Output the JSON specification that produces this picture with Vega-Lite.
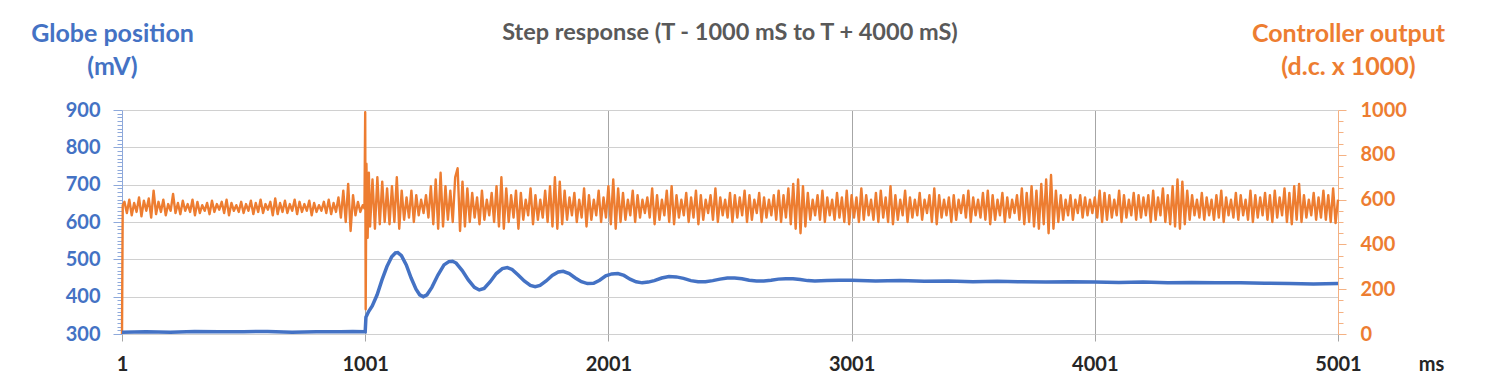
{
"$schema": "https://vega.github.io/schema/vega-lite/v6.json",
"width": 1216,
"height": 224,
"autosize": {"type": "none"},
"padding": {"left": 122, "top": 110, "right": 152, "bottom": 53},
"background": "white",
"config": {"view": {"stroke": null}},
"title": {"text": "Step response (T - 1000 mS to T + 4000 mS)", "font": "Lato", "fontSize": 23.5, "fontWeight": "bold", "color": "#595959", "anchor": "middle", "baseline": "alphabetic", "offset": 10, "dy": 52},
"datasets": {
"orange": [
{"t":1,"c":0},{"t":4,"c":575},
{"t":11,"c":590},{"t":21,"c":540},{"t":31,"c":600},{"t":41,"c":530},{"t":51,"c":585},{"t":61,"c":545},{"t":71,"c":610},{"t":81,"c":525},{"t":91,"c":595},{"t":101,"c":550},
{"t":111,"c":605},{"t":121,"c":520},{"t":131,"c":640},{"t":141,"c":535},{"t":151,"c":590},{"t":161,"c":545},{"t":171,"c":600},{"t":181,"c":530},{"t":191,"c":580},{"t":201,"c":550},
{"t":211,"c":625},{"t":221,"c":540},{"t":231,"c":585},{"t":241,"c":535},{"t":251,"c":595},{"t":261,"c":550},{"t":271,"c":580},{"t":281,"c":545},{"t":291,"c":600},{"t":301,"c":530},
{"t":311,"c":590},{"t":321,"c":540},{"t":331,"c":575},{"t":341,"c":550},{"t":351,"c":585},{"t":361,"c":535},{"t":371,"c":595},{"t":381,"c":545},{"t":391,"c":580},{"t":401,"c":555},
{"t":411,"c":590},{"t":421,"c":540},{"t":431,"c":600},{"t":441,"c":530},{"t":451,"c":585},{"t":461,"c":550},{"t":471,"c":575},{"t":481,"c":545},{"t":491,"c":590},{"t":501,"c":540},
{"t":511,"c":580},{"t":521,"c":550},{"t":531,"c":595},{"t":541,"c":535},{"t":551,"c":585},{"t":561,"c":545},{"t":571,"c":600},{"t":581,"c":540},{"t":591,"c":580},{"t":601,"c":555},
{"t":611,"c":590},{"t":621,"c":530},{"t":631,"c":605},{"t":641,"c":535},{"t":651,"c":585},{"t":661,"c":545},{"t":671,"c":595},{"t":681,"c":540},{"t":691,"c":580},{"t":701,"c":550},
{"t":711,"c":600},{"t":721,"c":535},{"t":731,"c":590},{"t":741,"c":545},{"t":751,"c":580},{"t":761,"c":550},{"t":771,"c":595},{"t":781,"c":530},{"t":791,"c":585},{"t":801,"c":545},
{"t":811,"c":575},{"t":821,"c":550},{"t":831,"c":590},{"t":841,"c":540},{"t":851,"c":600},{"t":861,"c":535},{"t":871,"c":585},{"t":881,"c":545},{"t":891,"c":610},{"t":901,"c":520},
{"t":911,"c":640},{"t":921,"c":500},{"t":931,"c":670},{"t":941,"c":460},{"t":951,"c":620},{"t":961,"c":530},{"t":971,"c":590},{"t":981,"c":545},{"t":991,"c":575},{"t":998,"c":560},
{"t":1001,"c":990},{"t":1003,"c":110},{"t":1006,"c":760},{"t":1011,"c":430},{"t":1016,"c":720},{"t":1021,"c":480},{"t":1031,"c":690},{"t":1041,"c":470},{"t":1051,"c":700},{"t":1061,"c":490},{"t":1071,"c":680},{"t":1081,"c":500},{"t":1091,"c":650},{"t":1101,"c":490},
{"t":1111,"c":660},{"t":1121,"c":500},{"t":1131,"c":700},{"t":1141,"c":470},{"t":1151,"c":640},{"t":1161,"c":510},{"t":1171,"c":610},{"t":1181,"c":520},{"t":1191,"c":640},{"t":1201,"c":500},
{"t":1211,"c":620},{"t":1221,"c":530},{"t":1231,"c":600},{"t":1241,"c":540},{"t":1251,"c":620},{"t":1261,"c":520},{"t":1271,"c":660},{"t":1281,"c":490},{"t":1291,"c":690},{"t":1301,"c":470},
{"t":1311,"c":720},{"t":1321,"c":480},{"t":1331,"c":660},{"t":1341,"c":510},{"t":1351,"c":640},{"t":1361,"c":500},{"t":1371,"c":700},{"t":1381,"c":740},{"t":1391,"c":460},{"t":1401,"c":680},
{"t":1411,"c":480},{"t":1421,"c":650},{"t":1431,"c":500},{"t":1441,"c":630},{"t":1451,"c":520},{"t":1461,"c":610},{"t":1471,"c":490},{"t":1481,"c":640},{"t":1491,"c":510},{"t":1501,"c":600},
{"t":1511,"c":530},{"t":1521,"c":630},{"t":1531,"c":500},{"t":1541,"c":660},{"t":1551,"c":480},{"t":1561,"c":700},{"t":1571,"c":470},{"t":1581,"c":650},{"t":1591,"c":500},{"t":1601,"c":620},
{"t":1611,"c":520},{"t":1621,"c":640},{"t":1631,"c":470},{"t":1641,"c":630},{"t":1651,"c":510},{"t":1661,"c":600},{"t":1671,"c":530},{"t":1681,"c":650},{"t":1691,"c":490},{"t":1701,"c":620},
{"t":1711,"c":510},{"t":1721,"c":600},{"t":1731,"c":520},{"t":1741,"c":640},{"t":1751,"c":500},{"t":1761,"c":660},{"t":1771,"c":480},{"t":1781,"c":700},{"t":1791,"c":470},{"t":1801,"c":680},
{"t":1811,"c":490},{"t":1821,"c":640},{"t":1831,"c":510},{"t":1841,"c":610},{"t":1851,"c":530},{"t":1861,"c":630},{"t":1871,"c":500},{"t":1881,"c":600},{"t":1891,"c":520},{"t":1901,"c":650},
{"t":1911,"c":480},{"t":1921,"c":620},{"t":1931,"c":510},{"t":1941,"c":600},{"t":1951,"c":530},{"t":1961,"c":640},{"t":1971,"c":500},{"t":1981,"c":610},{"t":1991,"c":520},{"t":2001,"c":660},
{"t":2011,"c":490},{"t":2021,"c":690},{"t":2031,"c":470},{"t":2041,"c":650},{"t":2051,"c":500},{"t":2061,"c":630},{"t":2071,"c":510},{"t":2081,"c":600},{"t":2091,"c":530},{"t":2101,"c":640},
{"t":2111,"c":500},{"t":2121,"c":620},{"t":2131,"c":520},{"t":2141,"c":600},{"t":2151,"c":540},{"t":2161,"c":610},{"t":2171,"c":520},{"t":2181,"c":650},{"t":2191,"c":490},{"t":2201,"c":620},
{"t":2211,"c":510},{"t":2221,"c":600},{"t":2231,"c":530},{"t":2241,"c":640},{"t":2251,"c":500},{"t":2261,"c":660},{"t":2271,"c":490},{"t":2281,"c":620},{"t":2291,"c":520},{"t":2301,"c":600},
{"t":2311,"c":530},{"t":2321,"c":630},{"t":2331,"c":500},{"t":2341,"c":610},{"t":2351,"c":520},{"t":2361,"c":640},{"t":2371,"c":490},{"t":2381,"c":620},{"t":2391,"c":510},{"t":2401,"c":600},
{"t":2411,"c":540},{"t":2421,"c":620},{"t":2431,"c":510},{"t":2441,"c":650},{"t":2451,"c":500},{"t":2461,"c":610},{"t":2471,"c":530},{"t":2481,"c":600},{"t":2491,"c":520},{"t":2501,"c":630},
{"t":2511,"c":500},{"t":2521,"c":620},{"t":2531,"c":520},{"t":2541,"c":610},{"t":2551,"c":530},{"t":2561,"c":640},{"t":2571,"c":500},{"t":2581,"c":620},{"t":2591,"c":510},{"t":2601,"c":600},
{"t":2611,"c":540},{"t":2621,"c":630},{"t":2631,"c":500},{"t":2641,"c":610},{"t":2651,"c":520},{"t":2661,"c":600},{"t":2671,"c":530},{"t":2681,"c":620},{"t":2691,"c":510},{"t":2701,"c":640},
{"t":2711,"c":500},{"t":2721,"c":620},{"t":2731,"c":520},{"t":2741,"c":650},{"t":2751,"c":490},{"t":2761,"c":670},{"t":2771,"c":470},{"t":2781,"c":690},{"t":2791,"c":450},{"t":2801,"c":660},
{"t":2811,"c":480},{"t":2821,"c":630},{"t":2831,"c":510},{"t":2841,"c":600},{"t":2851,"c":530},{"t":2861,"c":620},{"t":2871,"c":510},{"t":2881,"c":640},{"t":2891,"c":500},{"t":2901,"c":610},
{"t":2911,"c":530},{"t":2921,"c":600},{"t":2931,"c":510},{"t":2941,"c":630},{"t":2951,"c":520},{"t":2961,"c":610},{"t":2971,"c":500},{"t":2981,"c":640},{"t":2991,"c":490},{"t":3001,"c":620},
{"t":3011,"c":520},{"t":3021,"c":610},{"t":3031,"c":500},{"t":3041,"c":650},{"t":3051,"c":510},{"t":3061,"c":620},{"t":3071,"c":530},{"t":3081,"c":600},{"t":3091,"c":510},{"t":3101,"c":630},
{"t":3111,"c":500},{"t":3121,"c":640},{"t":3131,"c":520},{"t":3141,"c":610},{"t":3151,"c":500},{"t":3161,"c":660},{"t":3171,"c":490},{"t":3181,"c":620},{"t":3191,"c":510},{"t":3201,"c":600},
{"t":3211,"c":530},{"t":3221,"c":640},{"t":3231,"c":500},{"t":3241,"c":610},{"t":3251,"c":520},{"t":3261,"c":600},{"t":3271,"c":530},{"t":3281,"c":630},{"t":3291,"c":510},{"t":3301,"c":600},
{"t":3311,"c":540},{"t":3321,"c":620},{"t":3331,"c":500},{"t":3341,"c":650},{"t":3351,"c":490},{"t":3361,"c":620},{"t":3371,"c":520},{"t":3381,"c":600},{"t":3391,"c":530},{"t":3401,"c":610},
{"t":3411,"c":500},{"t":3421,"c":620},{"t":3431,"c":510},{"t":3441,"c":600},{"t":3451,"c":540},{"t":3461,"c":620},{"t":3471,"c":520},{"t":3481,"c":640},{"t":3491,"c":500},{"t":3501,"c":610},
{"t":3511,"c":530},{"t":3521,"c":600},{"t":3531,"c":520},{"t":3541,"c":630},{"t":3551,"c":510},{"t":3561,"c":640},{"t":3571,"c":490},{"t":3581,"c":620},{"t":3591,"c":510},{"t":3601,"c":600},
{"t":3611,"c":530},{"t":3621,"c":630},{"t":3631,"c":500},{"t":3641,"c":610},{"t":3651,"c":520},{"t":3661,"c":600},{"t":3671,"c":540},{"t":3681,"c":620},{"t":3691,"c":510},{"t":3701,"c":650},
{"t":3711,"c":490},{"t":3721,"c":630},{"t":3731,"c":500},{"t":3741,"c":660},{"t":3751,"c":480},{"t":3761,"c":640},{"t":3771,"c":470},{"t":3781,"c":670},{"t":3791,"c":490},{"t":3801,"c":690},
{"t":3811,"c":450},{"t":3821,"c":710},{"t":3831,"c":470},{"t":3841,"c":640},{"t":3851,"c":500},{"t":3861,"c":620},{"t":3871,"c":510},{"t":3881,"c":600},{"t":3891,"c":530},{"t":3901,"c":620},
{"t":3911,"c":510},{"t":3921,"c":600},{"t":3931,"c":540},{"t":3941,"c":620},{"t":3951,"c":520},{"t":3961,"c":610},{"t":3971,"c":530},{"t":3981,"c":600},{"t":3991,"c":540},{"t":4001,"c":610},
{"t":4011,"c":520},{"t":4021,"c":640},{"t":4031,"c":500},{"t":4041,"c":630},{"t":4051,"c":510},{"t":4061,"c":620},{"t":4071,"c":520},{"t":4081,"c":600},{"t":4091,"c":530},{"t":4101,"c":640},
{"t":4111,"c":500},{"t":4121,"c":620},{"t":4131,"c":520},{"t":4141,"c":600},{"t":4151,"c":530},{"t":4161,"c":630},{"t":4171,"c":510},{"t":4181,"c":620},{"t":4191,"c":520},{"t":4201,"c":610},
{"t":4211,"c":530},{"t":4221,"c":620},{"t":4231,"c":500},{"t":4241,"c":640},{"t":4251,"c":510},{"t":4261,"c":610},{"t":4271,"c":530},{"t":4281,"c":650},{"t":4291,"c":500},{"t":4301,"c":620},
{"t":4311,"c":490},{"t":4321,"c":660},{"t":4331,"c":480},{"t":4341,"c":690},{"t":4351,"c":470},{"t":4361,"c":680},{"t":4371,"c":490},{"t":4381,"c":640},{"t":4391,"c":510},{"t":4401,"c":620},
{"t":4411,"c":530},{"t":4421,"c":600},{"t":4431,"c":520},{"t":4441,"c":630},{"t":4451,"c":510},{"t":4461,"c":610},{"t":4471,"c":530},{"t":4481,"c":600},{"t":4491,"c":510},{"t":4501,"c":620},
{"t":4511,"c":520},{"t":4521,"c":640},{"t":4531,"c":500},{"t":4541,"c":610},{"t":4551,"c":530},{"t":4561,"c":600},{"t":4571,"c":520},{"t":4581,"c":630},{"t":4591,"c":510},{"t":4601,"c":620},
{"t":4611,"c":530},{"t":4621,"c":600},{"t":4631,"c":510},{"t":4641,"c":640},{"t":4651,"c":500},{"t":4661,"c":620},{"t":4671,"c":520},{"t":4681,"c":610},{"t":4691,"c":530},{"t":4701,"c":630},
{"t":4711,"c":510},{"t":4721,"c":620},{"t":4731,"c":500},{"t":4741,"c":640},{"t":4751,"c":520},{"t":4761,"c":610},{"t":4771,"c":530},{"t":4781,"c":650},{"t":4791,"c":500},{"t":4801,"c":630},
{"t":4811,"c":490},{"t":4821,"c":660},{"t":4831,"c":510},{"t":4841,"c":670},{"t":4851,"c":500},{"t":4861,"c":620},{"t":4871,"c":520},{"t":4881,"c":600},{"t":4891,"c":530},{"t":4901,"c":630},
{"t":4911,"c":510},{"t":4921,"c":610},{"t":4931,"c":520},{"t":4941,"c":640},{"t":4951,"c":510},{"t":4961,"c":620},{"t":4971,"c":500},{"t":4981,"c":650},{"t":4991,"c":495},{"t":5001,"c":600}
],
"blue": [
{"t":1,"v":305},{"t":100,"v":306},{"t":200,"v":305},{"t":300,"v":307},{"t":400,"v":306},{"t":500,"v":306},{"t":600,"v":307},{"t":700,"v":305},{"t":800,"v":306},{"t":900,"v":306},{"t":950,"v":307},{"t":1001,"v":306},
{"t":1004,"v":345},{"t":1015,"v":360},{"t":1030,"v":375},{"t":1050,"v":405},{"t":1070,"v":445},{"t":1090,"v":480},{"t":1110,"v":507},{"t":1125,"v":517},{"t":1135,"v":518},{"t":1150,"v":510},
{"t":1170,"v":485},{"t":1190,"v":450},{"t":1210,"v":420},{"t":1225,"v":405},{"t":1240,"v":400},{"t":1255,"v":405},{"t":1275,"v":425},{"t":1300,"v":458},{"t":1325,"v":485},{"t":1345,"v":494},
{"t":1360,"v":495},{"t":1375,"v":490},{"t":1400,"v":470},{"t":1425,"v":445},{"t":1450,"v":425},{"t":1470,"v":418},{"t":1490,"v":422},{"t":1515,"v":440},{"t":1540,"v":462},{"t":1565,"v":475},
{"t":1585,"v":478},{"t":1605,"v":473},{"t":1630,"v":458},{"t":1655,"v":442},{"t":1680,"v":430},{"t":1700,"v":427},{"t":1720,"v":430},{"t":1745,"v":442},{"t":1770,"v":457},{"t":1795,"v":466},
{"t":1815,"v":468},{"t":1840,"v":462},{"t":1865,"v":450},{"t":1890,"v":440},{"t":1915,"v":435},{"t":1940,"v":436},{"t":1965,"v":444},{"t":1990,"v":456},{"t":2015,"v":461},{"t":2040,"v":462},
{"t":2065,"v":457},{"t":2090,"v":447},{"t":2115,"v":440},{"t":2140,"v":437},{"t":2165,"v":439},{"t":2190,"v":443},{"t":2220,"v":450},{"t":2250,"v":454},{"t":2280,"v":453},{"t":2310,"v":449},
{"t":2340,"v":443},{"t":2370,"v":440},{"t":2400,"v":440},{"t":2430,"v":443},{"t":2460,"v":447},{"t":2490,"v":450},{"t":2520,"v":450},{"t":2550,"v":448},{"t":2580,"v":444},{"t":2610,"v":442},
{"t":2640,"v":442},{"t":2670,"v":444},{"t":2700,"v":447},{"t":2730,"v":448},{"t":2760,"v":448},{"t":2790,"v":446},{"t":2820,"v":443},{"t":2850,"v":442},{"t":2900,"v":443},{"t":2950,"v":444},
{"t":3000,"v":444},{"t":3100,"v":442},{"t":3200,"v":443},{"t":3300,"v":441},{"t":3400,"v":442},{"t":3500,"v":440},{"t":3600,"v":441},{"t":3700,"v":440},{"t":3800,"v":439},{"t":3900,"v":440},
{"t":4000,"v":439},{"t":4100,"v":438},{"t":4200,"v":439},{"t":4300,"v":437},{"t":4400,"v":438},{"t":4500,"v":437},{"t":4600,"v":437},{"t":4700,"v":436},{"t":4800,"v":435},{"t":4900,"v":434},{"t":5001,"v":435}
]
},
"layer": [
{
"data": {"name": "orange"},
"mark": {"type": "line", "color": "#ED7D31", "strokeWidth": 2.4, "strokeJoin": "round"},
"encoding": {
"x": {"field": "t", "type": "quantitative", "scale": {"domain": [1, 5001], "nice": false, "zero": false},
"axis": {"values": [1, 1001, 2001, 3001, 4001, 5001], "format": "d", "grid": true, "gridColor": "#A6A6A6",
"gridOpacity": {"condition": {"test": "datum.value === 1 || datum.value === 5001", "value": 0}, "value": 1},
"domain": false, "tickColor": "#A6A6A6", "tickSize": 7, "labelFont": "Lato", "labelFontSize": 20, "labelFontWeight": "bold", "labelColor": "#262626",
"labelBaseline": "alphabetic", "labelPadding": 29, "labelFlush": false, "labelOverlap": false,
"title": "ms", "titleX": 1309, "titleY": 36, "titleAlign": "center", "titleAnchor": null, "titleBaseline": "alphabetic", "titleFont": "Lato", "titleFontSize": 20, "titleFontWeight": "bold", "titleColor": "#262626"}},
"y": {"field": "c", "type": "quantitative", "scale": {"domain": [0, 1000], "nice": false},
"axis": {"orient": "right", "values": [0,50,100,150,200,250,300,350,400,450,500,550,600,650,700,750,800,850,900,950,1000],
"format": "d",
"labelExpr": "datum.value % 200 === 0 ? datum.label : ''", "labelOverlap": false, "grid": false,
"domainColor": "#F4B183", "tickColor": "#F4B183",
"tickSize": {"condition": {"test": "datum.value % 200 === 0", "value": 8}, "value": 5},
"labelColor": "#ED7D31", "labelFont": "Lato", "labelFontSize": 20, "labelFontWeight": "bold", "labelPadding": 14,
"title": ["Controller output", "(d.c. x 1000)"], "titleAngle": 0, "titleX": 10, "titleY": -69, "titleAlign": "center", "titleAnchor": null, "titleBaseline": "alphabetic",
"titleColor": "#ED7D31", "titleFont": "Lato", "titleFontSize": 25, "titleFontWeight": "bold", "titleLineHeight": 33}}
}
},
{
"data": {"name": "blue"},
"mark": {"type": "line", "color": "#4472C4", "strokeWidth": 3.5},
"encoding": {
"x": {"field": "t", "type": "quantitative"},
"y": {"field": "v", "type": "quantitative", "scale": {"domain": [300, 900], "nice": false, "zero": false},
"axis": {"orient": "left", "values": [300,310,320,330,340,350,360,370,380,390,400,410,420,430,440,450,460,470,480,490,500,510,520,530,540,550,560,570,580,590,600,610,620,630,640,650,660,670,680,690,700,710,720,730,740,750,760,770,780,790,800,810,820,830,840,850,860,870,880,890,900],
"labelExpr": "datum.value % 100 === 0 ? datum.label : ''", "labelOverlap": false,
"grid": true, "gridColor": "#D0D0D0",
"gridOpacity": {"condition": {"test": "datum.value % 100 === 0", "value": 1}, "value": 0},
"domainColor": "#8EA9DB", "tickColor": "#8EA9DB",
"tickSize": {"condition": {"test": "datum.value % 100 === 0", "value": 9}, "value": 5},
"labelColor": "#4472C4", "labelFont": "Lato", "labelFontSize": 20, "labelFontWeight": "bold", "labelPadding": 13,
"title": ["Globe position", "(mV)"], "titleAngle": 0, "titleX": -10, "titleY": -69, "titleAlign": "center", "titleAnchor": null, "titleBaseline": "alphabetic",
"titleColor": "#4472C4", "titleFont": "Lato", "titleFontSize": 25, "titleFontWeight": "bold", "titleLineHeight": 33}}
}
}
],
"resolve": {"scale": {"y": "independent"}, "axis": {"y": "independent"}}
}
